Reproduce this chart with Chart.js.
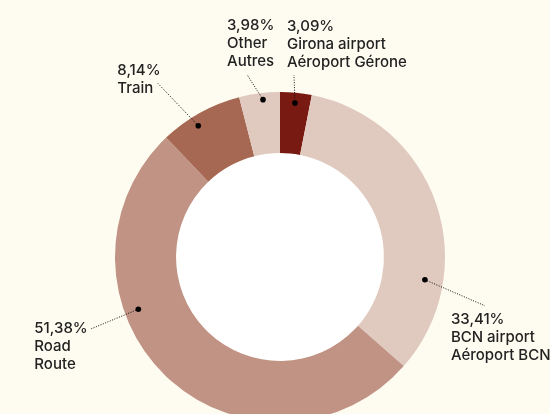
<!DOCTYPE html>
<html>
<head>
<meta charset="utf-8">
<script src="https://cdn.jsdelivr.net/npm/chart.js@4"></script>
<style>
  html, body { margin: 0; padding: 0; background: #fefcf0; overflow: hidden; }
  #wrap { width: 550px; height: 440px; position: relative; }
</style>
</head>
<body>
<div id="wrap"><canvas id="chartdiv"></canvas></div>
<script>
// shares, clockwise from 12 o'clock
const categories = ['Girona airport', 'BCN airport', 'Road', 'Train', 'Other'];
const categoriesFr = ['Aéroport Gérone', 'Aéroport BCN', 'Route', '', 'Autres'];
const shares = [3.09, 33.41, 51.38, 8.14, 3.98];
const colors = ['#781912', '#e0c9bf', '#c09385', '#a66853', '#e0c9bf'];

// where each leader dot sits on its slice (t = along the arc, f = across the ring),
// then the leader end and text offsets
const callouts = [
  { t: 0.50, f: 0.83, line: [-1, -28], text: [-7, -49] },
  { t: 0.73, f: 0.70, line: [60, 26], text: [-34, 14] },
  { t: 0.64, f: 0.77, line: [-48, 20], text: [-56, -1] },
  { t: 0.40, f: 0.83, line: [-41, -43], text: [-40, -12] },
  { t: 0.57, f: 0.89, line: [-16, -25], text: [-20, -49] }
];

function fmt(v) { return v.toFixed(2).replace('.', ',') + '%'; }

const calloutPlugin = {
  id: 'callouts',
  beforeDatasetsDraw(chart) {
    const arc = chart.getDatasetMeta(0).data[0];
    const c = chart.ctx;
    c.save();
    c.fillStyle = '#ffffff';
    c.beginPath();
    c.arc(arc.x, arc.y, arc.innerRadius, 0, Math.PI * 2);
    c.fill();
    c.restore();
  },
  afterDatasetsDraw(chart) {
    const c = chart.ctx;
    const arcs = chart.getDatasetMeta(0).data;
    c.save();
    arcs.forEach((a, i) => {
      const co = callouts[i];
      const ang = a.startAngle + co.t * (a.endAngle - a.startAngle);
      const r = a.innerRadius + co.f * (a.outerRadius - a.innerRadius);
      const dx = a.x + Math.cos(ang) * r;
      const dy = a.y + Math.sin(ang) * r;
      const lx = dx + co.line[0], ly = dy + co.line[1];
      c.strokeStyle = '#111';
      c.lineWidth = 1;
      c.setLineDash([1, 1.5]);
      c.beginPath();
      c.moveTo(dx, dy);
      c.lineTo(lx, ly);
      c.stroke();
      c.setLineDash([]);
      c.fillStyle = '#000';
      c.beginPath();
      c.arc(dx, dy, 2.8, 0, Math.PI * 2);
      c.fill();
      const lines = [fmt(shares[i]), categories[i]];
      if (categoriesFr[i]) lines.push(categoriesFr[i]);
      c.fillStyle = '#222';
      c.font = '500 15px Inter';
      c.textAlign = 'left';
      c.textBaseline = 'middle';
      lines.forEach((s, k) => c.fillText(s, lx + co.text[0], ly + co.text[1] + k * 18));
    });
    c.restore();
  }
};

new Chart(document.querySelector('#chartdiv'), {
  type: 'doughnut',
  data: {
    labels: categories,
    datasets: [{ data: shares, backgroundColor: colors, borderWidth: 0 }]
  },
  options: {
    responsive: true,
    maintainAspectRatio: false,
    animation: false,
    cutout: '63%',
    layout: { padding: { left: 115, right: 105, top: 92, bottom: 18 } },
    plugins: { legend: { display: false }, tooltip: { enabled: false } }
  },
  plugins: [calloutPlugin]
});
</script>
</body>
</html>
